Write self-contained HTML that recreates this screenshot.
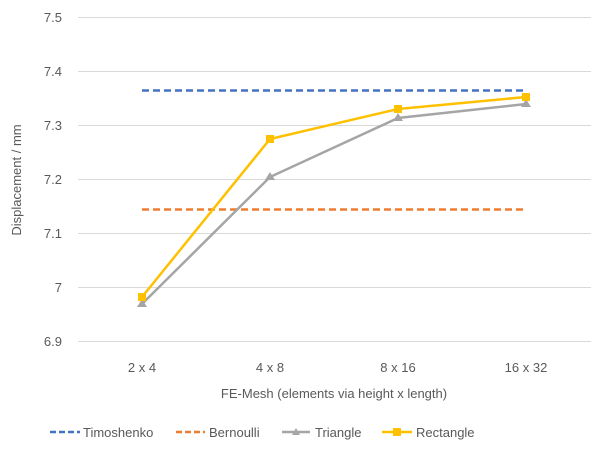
<!DOCTYPE html>
<html><head><meta charset="utf-8"><style>
html,body{margin:0;padding:0;background:#fff;}
svg{display:block;font-family:"Liberation Sans",sans-serif;}
</style></head><body>
<svg width="605" height="454" viewBox="0 0 605 454" xmlns="http://www.w3.org/2000/svg">
<rect width="605" height="454" fill="#fff"/>
<g stroke="#d9d9d9" stroke-width="1">
<line x1="78" x2="591" y1="17.5" y2="17.5"/>
<line x1="78" x2="591" y1="71.5" y2="71.5"/>
<line x1="78" x2="591" y1="125.5" y2="125.5"/>
<line x1="78" x2="591" y1="179.5" y2="179.5"/>
<line x1="78" x2="591" y1="233.5" y2="233.5"/>
<line x1="78" x2="591" y1="287.5" y2="287.5"/>
<line x1="78" x2="591" y1="341.5" y2="341.5"/>
</g>
<g fill="#595959" font-size="13" text-anchor="end">
<text x="62" y="22">7.5</text>
<text x="62" y="76">7.4</text>
<text x="62" y="130">7.3</text>
<text x="62" y="184">7.2</text>
<text x="62" y="238">7.1</text>
<text x="62" y="292">7</text>
<text x="62" y="346">6.9</text>
</g>
<g fill="#595959" font-size="13" text-anchor="middle">
<text x="142" y="372">2 x 4</text>
<text x="270" y="372">4 x 8</text>
<text x="398" y="372">8 x 16</text>
<text x="526" y="372">16 x 32</text>
<text x="334" y="398">FE-Mesh (elements via height x length)</text>
<text transform="translate(21,180) rotate(-90)">Displacement / mm</text>
</g>
<line x1="142" x2="526" y1="90.5" y2="90.5" stroke="#4472c4" stroke-width="2.5" stroke-dasharray="7,4"/>
<line x1="142" x2="526" y1="209.5" y2="209.5" stroke="#ed7d31" stroke-width="2.5" stroke-dasharray="7,4"/>
<polyline points="142,304 270,177 398,118 526,104" fill="none" stroke="#a5a5a5" stroke-width="2.5"/>
<g fill="#a5a5a5">
<polygon points="142,299 147,307 137,307"/>
<polygon points="270,172 275,180 265,180"/>
<polygon points="398,113 403,121 393,121"/>
<polygon points="526,99 531,107 521,107"/>
</g>
<polyline points="142,297 270,139 398,109 526,97" fill="none" stroke="#ffc000" stroke-width="2.5"/>
<g fill="#ffc000">
<rect x="138" y="293" width="8" height="8"/>
<rect x="266" y="135" width="8" height="8"/>
<rect x="394" y="105" width="8" height="8"/>
<rect x="522" y="93" width="8" height="8"/>
</g>
<g font-size="13" fill="#595959">
<line x1="50" x2="80" y1="432" y2="432" stroke="#4472c4" stroke-width="2.5" stroke-dasharray="6,3"/>
<text x="83" y="437">Timoshenko</text>
<line x1="176" x2="205" y1="432" y2="432" stroke="#ed7d31" stroke-width="2.5" stroke-dasharray="6,3"/>
<text x="209" y="437">Bernoulli</text>
<line x1="282" x2="310" y1="432" y2="432" stroke="#a5a5a5" stroke-width="2.5"/>
<polygon points="296,428 300,435 292,435" fill="#a5a5a5"/>
<text x="315" y="437">Triangle</text>
<line x1="382" x2="412" y1="432" y2="432" stroke="#ffc000" stroke-width="2.5"/>
<rect x="393" y="428" width="8" height="8" fill="#ffc000"/>
<text x="416" y="437">Rectangle</text>
</g>
</svg>
</body></html>
